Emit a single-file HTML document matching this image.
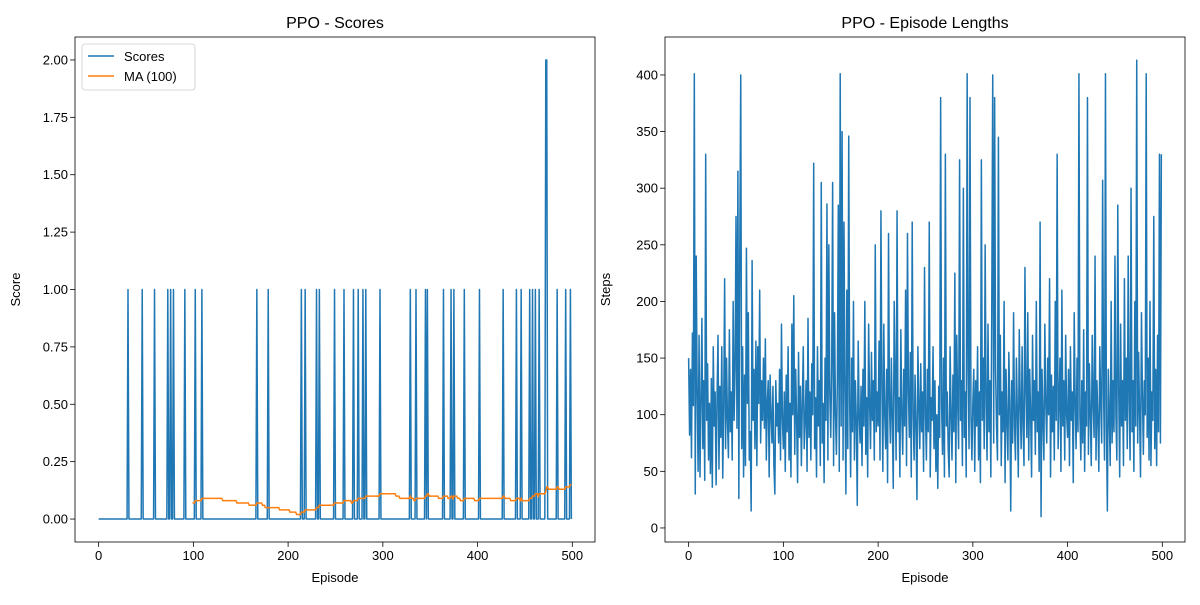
<!DOCTYPE html>
<html><head><meta charset="utf-8">
<style>
body{margin:0;background:#fff;}
svg text{font-family:"Liberation Sans","DejaVu Sans",sans-serif;}
</style></head>
<body>
<svg id="chart" width="1200" height="600" xmlns="http://www.w3.org/2000/svg">
<rect width="1200" height="600" fill="#fff"/>
<g id="left"></g>
<g id="right"></g>
</svg>
<script>
const scoreSpikeEpisodes = [31,46,59,73,76,79,91,102,109,167,179,214,218,230,233,249,259,269,274,279,282,297,329,335,345,347,364,372,375,386,402,427,441,446,455,458,461,465,472,473,484,493,498];
const scoreSpikeValues = [1,1,1,1,1,1,1,1,1,1,1,1,1,1,1,1,1,1,1,1,1,1,1,1,1,1,1,1,1,1,1,1,1,1,1,1,1,1,2,2,1,1,1];
const numEpisodes = 500;
const scoreTicks = [0,0.25,0.5,0.75,1.0,1.25,1.5,1.75,2.0];
const episodeTicks = [0,100,200,300,400,500];
const stepTicks = [0,50,100,150,200,250,300,350,400];
const episodeLengths = [
150,82,140,62,172,108,401,30,240,120,50,170,45,110,185,70,130,42,330,95,145,60,110,48,132,36,160,90,120,38,115,170,52,125,80,160,44,105,220,70,150,95,62,175,85,120,60,200,95,140,
275,88,315,26,245,400,70,160,45,135,55,247,110,190,60,85,15,236,95,140,70,165,55,160,110,210,75,130,95,150,88,167,60,110,130,45,135,100,75,125,55,30,130,90,110,75,140,60,180,95,
70,120,50,135,85,160,60,110,45,180,100,205,65,140,95,40,155,80,125,55,110,160,70,95,130,50,185,80,120,60,145,100,322,70,115,45,160,90,130,55,305,75,110,40,150,95,286,60,250,120,
80,140,305,55,190,100,65,130,285,50,401,90,350,60,270,120,30,210,70,346,110,45,150,85,200,60,130,95,20,165,100,75,125,55,140,90,200,65,115,45,180,110,70,155,95,130,60,250,85,120,
90,165,60,280,125,50,180,100,70,140,40,260,110,75,150,95,35,200,130,60,280,85,115,45,175,100,65,140,90,210,55,260,120,80,155,45,270,100,60,135,90,25,160,110,70,145,85,120,50,230,
100,60,140,85,270,45,115,95,160,70,130,50,100,35,125,80,380,110,65,150,45,330,90,120,70,45,160,100,60,135,85,225,40,170,110,70,325,95,130,55,300,80,120,45,401,140,70,380,100,60,
110,140,50,130,90,160,60,120,40,325,95,150,70,250,110,60,180,85,130,45,200,400,75,380,140,90,60,345,100,170,55,120,85,200,40,140,95,60,155,110,15,130,75,190,90,60,150,100,45,175,
110,70,160,90,55,230,120,80,190,60,140,100,45,170,95,130,65,200,85,120,50,270,10,140,95,60,180,110,75,150,100,220,45,135,85,125,60,200,95,330,70,110,150,50,210,90,130,60,170,100,
80,140,55,160,95,120,40,190,110,70,150,85,401,100,60,130,75,175,50,120,90,380,65,145,100,55,170,110,80,240,60,130,95,50,160,110,75,307,120,60,401,90,15,140,100,55,200,75,130,85,
240,100,60,285,120,45,180,90,130,55,220,95,150,70,240,110,60,300,85,130,50,200,90,413,75,155,100,45,190,120,65,130,100,401,80,150,60,200,55,120,95,275,70,140,55,170,85,330,75,330
];

const NS='http://www.w3.org/2000/svg';
function mk(parent,tag,attrs,text){const e=document.createElementNS(NS,tag);for(const k in attrs)e.setAttribute(k,attrs[k]);if(text!==undefined)e.textContent=text;parent.appendChild(e);return e;}

const scores=new Array(numEpisodes).fill(0);
scoreSpikeEpisodes.forEach((ep,i)=>{scores[ep]=scoreSpikeValues[i];});
const ma=[];
for(let i=99;i<numEpisodes;i++){let s=0;for(let j=i-99;j<=i;j++)s+=scores[j];ma.push([i,s/100]);}

function panel(g,box,xmin,xmax,ymin,ymax,yTicks,yFmt,title,ylabel){
  const [L,T,R,B]=box;
  const sx=v=>L+(v-xmin)/(xmax-xmin)*(R-L);
  const sy=v=>B-(v-ymin)/(ymax-ymin)*(B-T);
  const t=mk(g,'text',{x:(L+R)/2,y:T-9,'text-anchor':'middle','font-size':16,fill:'#000'},title);
  
  
  episodeTicks.forEach(v=>{
    const x=sx(v);
    mk(g,'line',{x1:x,x2:x,y1:B,y2:B+4.9,stroke:'#000','stroke-width':0.8});
    const tt=mk(g,'text',{x:x,y:B+18,'text-anchor':'middle','font-size':13,fill:'#000'},String(v));
    
    
  });
  yTicks.forEach(v=>{
    const y=sy(v);
    mk(g,'line',{x1:L-4.9,x2:L,y1:y,y2:y,stroke:'#000','stroke-width':0.8});
    const tt=mk(g,'text',{x:L-7,y:y+4.5,'text-anchor':'end','font-size':13,fill:'#000'},yFmt(v));
    
    
  });
  const xl=mk(g,'text',{x:(L+R)/2,y:B+40,'text-anchor':'middle','font-size':13,fill:'#000'},'Episode');
  
  
  const yl=mk(g,'text',{x:0,y:0,'text-anchor':'middle','font-size':13,fill:'#000',transform:`translate(${L-55},${(T+B)/2}) rotate(-90)`},ylabel);
  
  
  return {sx,sy,L,T,R,B};
}
function frame(g,a){const r=mk(g,'rect',{x:a.L,y:a.T,width:a.R-a.L,height:a.B-a.T,fill:'none',stroke:'#000','stroke-width':0.8});
}

const gl=document.getElementById('left');
const A=panel(gl,[75,37,595,542],-24.95,523.95,-0.1,2.1,scoreTicks,v=>v.toFixed(2),'PPO - Scores','Score');
const sp=mk(gl,'polyline',{points:scores.map((v,i)=>A.sx(i)+','+A.sy(v)).join(' '),fill:'none',stroke:'#1f77b4','stroke-width':1.5,'stroke-linejoin':'round'});


const mp=mk(gl,'polyline',{points:ma.map(p=>A.sx(p[0])+','+A.sy(p[1])).join(' '),fill:'none',stroke:'#ff7f0e','stroke-width':1.5});


frame(gl,A);
const lg=mk(gl,'g',{});


mk(lg,'rect',{x:82,y:44,width:113,height:46,rx:3,fill:'#fff','fill-opacity':0.8,stroke:'#ccc','stroke-width':0.8});
mk(lg,'line',{x1:88,x2:114,y1:56,y2:56,stroke:'#1f77b4','stroke-width':1.5});
const l1=mk(lg,'text',{x:124,y:61,'font-size':13},'Scores');


mk(lg,'line',{x1:88,x2:114,y1:76,y2:76,stroke:'#ff7f0e','stroke-width':1.5});
const l2=mk(lg,'text',{x:124,y:81,'font-size':13},'MA (100)');



const gr=document.getElementById('right');
const B2=panel(gr,[665,37,1185,542],-24.95,523.95,-12.4,433.5,stepTicks,v=>String(v),'PPO - Episode Lengths','Steps');
const lp=mk(gr,'polyline',{points:episodeLengths.map((v,i)=>B2.sx(i)+','+B2.sy(v)).join(' '),fill:'none',stroke:'#1f77b4','stroke-width':1.5,'stroke-linejoin':'round'});


frame(gr,B2);
</script>
</body></html>
